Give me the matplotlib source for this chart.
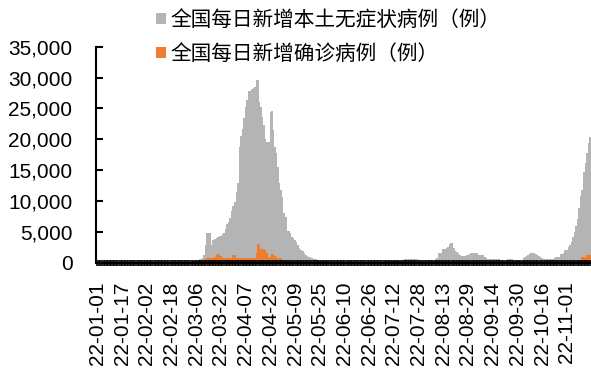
import numpy as np
import pandas as pd
import matplotlib
matplotlib.use('Agg')
import matplotlib.pyplot as plt
from matplotlib.ticker import FuncFormatter

# daily new local cases, 2022-01-01 .. 2022-11-16
dates = pd.date_range('2022-01-01', '2022-11-16', freq='D')

# asymptomatic (gray), one list per month
asym_jan = [28, 31, 25, 23, 30, 36, 33, 41, 45, 52, 60, 48, 39, 44, 37, 50,
            42, 35, 40, 38, 33, 29, 31, 27, 36, 41, 39, 45, 43, 40, 34]
asym_feb = [30, 28, 26, 25, 29, 31, 35, 40, 38, 42, 45, 50, 47, 52, 48, 55,
            60, 58, 62, 66, 70, 75, 80, 78, 85, 90, 96, 100]
asym_mar = [150, 170, 190, 220, 250, 290, 340, 600, 650, 800, 1270, 2950,
            4820, 4920, 4820, 2950, 3740, 3930, 4030, 4230, 4330, 4430, 4720,
            4820, 5510, 6300, 6700, 7290, 8470, 9160, 9950]
asym_apr = [11530, 13010, 18820, 20500, 21680, 23460, 25230, 26320, 27900,
            27900, 28090, 28390, 28490, 29670, 29670, 26120, 25230, 23660,
            22280, 20010, 19610, 19610, 24440, 24640, 21490, 18720, 17740,
            15570, 12910, 11820]
asym_may = [10740, 8080, 7480, 5220, 5120, 4820, 4230, 4030, 3740, 3440,
            2950, 2360, 2060, 1960, 1570, 1270, 1120, 1020, 980, 730, 680,
            680, 630, 450, 420, 390, 360, 330, 300, 280, 260]
asym_jun = [260, 240, 220, 200, 210, 190, 170, 160, 150, 170, 200, 230, 250,
            220, 190, 170, 150, 130, 120, 110, 100, 110, 130, 120, 100, 90,
            110, 130, 150, 170]
asym_jul = [120, 140, 160, 190, 220, 250, 270, 300, 320, 340, 330, 310, 300,
            320, 350, 380, 400, 440, 600, 630, 650, 660, 640, 620, 610, 600,
            590, 470, 430, 400, 380]
asym_aug = [380, 400, 420, 430, 440, 450, 470, 620, 870, 1570, 1620, 1670,
            2260, 2310, 2360, 2650, 3150, 3250, 3200, 2360, 1960, 1860, 1670,
            1270, 1170, 1120, 1070, 1370, 1370, 1420, 1570]
asym_sep = [1620, 1670, 1620, 1570, 1320, 1270, 1270, 1220, 980, 880, 680,
            660, 640, 650, 630, 630, 620, 610, 450, 400, 380, 390, 420, 620,
            640, 630, 600, 420, 400, 410]
asym_oct = [420, 440, 520, 730, 930, 1120, 1270, 1420, 1570, 1570, 1570, 1520,
            1270, 1170, 930, 830, 650, 630, 630, 640, 680, 680, 700, 730, 900,
            930, 980, 1420, 1470, 1570, 2060]
asym_nov = [2160, 2650, 2950, 3340, 4130, 5020, 6000, 7190, 8870, 10840,
            11820, 14780, 16260, 17740, 19420, 20400]

# confirmed (orange)
conf_jan = [112, 130, 95, 88, 79, 103, 128, 97, 110, 165, 122, 138, 104, 89,
            76, 81, 69, 52, 43, 57, 39, 48, 40, 35, 30, 28, 26, 24, 22, 20, 18]
conf_feb = [15, 12, 14, 18, 22, 25, 30, 34, 40, 45, 52, 47, 42, 38, 35, 40, 46,
            55, 60, 66, 72, 70, 68, 75, 80, 84, 88, 95]
conf_mar = [150, 170, 190, 210, 230, 250, 270, 300, 320, 350, 450, 700, 800,
            780, 760, 780, 800, 1020, 1270, 1420, 1370, 1070, 830, 780, 760,
            780, 760, 740, 780, 1270, 1220]
conf_apr = [830, 780, 760, 780, 760, 750, 740, 760, 780, 770, 780, 800, 830,
            1660, 3050, 2950, 2260, 2260, 2210, 2160, 1570, 980, 930, 1470,
            1420, 1070, 930, 880, 830, 780]
conf_may = [450, 420, 400, 380, 350, 330, 300, 280, 260, 240, 220, 200, 190,
            180, 170, 160, 150, 140, 130, 120, 110, 100, 95, 90, 85, 80, 75,
            70, 65, 60, 55]
conf_jun = [35, 30, 28, 25, 22, 20, 18, 16, 15, 14, 13, 30, 45, 50, 40, 32, 28,
            24, 20, 18, 16, 14, 13, 12, 12, 11, 10, 12, 14, 16]
conf_jul = [18, 20, 25, 30, 35, 40, 45, 50, 55, 60, 65, 70, 75, 80, 85, 90, 95,
            100, 105, 110, 110, 100, 95, 90, 85, 80, 75, 70, 65, 60, 55]
conf_aug = [50, 55, 60, 70, 80, 90, 100, 110, 120, 130, 140, 150, 160, 170,
            180, 190, 200, 210, 200, 190, 180, 170, 160, 150, 140, 130, 120,
            110, 100, 110, 120]
conf_sep = [130, 140, 150, 140, 130, 120, 110, 100, 90, 80, 70, 65, 60, 55, 50,
            48, 46, 44, 42, 40, 38, 36, 34, 32, 30, 32, 34, 36, 38, 40]
conf_oct = [45, 50, 55, 60, 70, 80, 90, 100, 110, 120, 130, 140, 150, 140, 130,
            120, 110, 100, 90, 80, 75, 70, 80, 90, 100, 110, 120, 130, 150, 170,
            190]
conf_nov = [250, 270, 290, 310, 330, 350, 380, 400, 430, 460, 900, 980, 1000,
            1330, 1340, 1350]

asym = np.concatenate([asym_jan, asym_feb, asym_mar, asym_apr, asym_may, asym_jun,
                       asym_jul, asym_aug, asym_sep, asym_oct, asym_nov])
conf = np.concatenate([conf_jan, conf_feb, conf_mar, conf_apr, conf_may, conf_jun,
                       conf_jul, conf_aug, conf_sep, conf_oct, conf_nov])

tick_labels = ['22-01-01', '22-01-17', '22-02-02', '22-02-18', '22-03-06',
               '22-03-22', '22-04-07', '22-04-23', '22-05-09', '22-05-25',
               '22-06-10', '22-06-26', '22-07-12', '22-07-28', '22-08-13',
               '22-08-29', '22-09-14', '22-09-30', '22-10-16', '22-11-01']

label_asym = '全国每日新增本土无症状病例（例）'
label_conf = '全国每日新增确诊病例（例）'

gray = '#B4B4B4'
orange = '#ED7D31'

x = np.arange(len(dates))
tick_pos = [dates.get_loc(pd.Timestamp('20' + t)) for t in tick_labels]

fig = plt.figure(figsize=(5.91, 3.70), dpi=100)
ax = fig.add_axes([96 / 591, 1 - 263 / 370, 1 - 96 / 591, (263 - 46.7) / 370])

b1 = ax.bar(x, asym, width=1.0, color=gray, linewidth=0, label=label_asym, zorder=1)
b2 = ax.bar(x, conf, width=1.0, color=orange, linewidth=0, label=label_conf, zorder=1.5)

ax.set_xlim(-0.9, 319.7)
ax.set_ylim(0, 35000)
ax.set_yticks(np.arange(0, 35001, 5000))
ax.yaxis.set_major_formatter(FuncFormatter(lambda v, p: '{:,.0f}'.format(v)))

ax.set_xticks(tick_pos)
ax.set_xticklabels(tick_labels, rotation=90)
ax.set_xticks(x, minor=True)

for s in ['top', 'right']:
    ax.spines[s].set_visible(False)
ax.spines['left'].set_linewidth(1.5)
ax.spines['bottom'].set_linewidth(1.5)

ax.tick_params(axis='x', which='both', direction='inout', length=4.6, width=1.2,
               color='black')
ax.tick_params(axis='x', which='major', pad=11, labelsize=15)
ax.tick_params(axis='y', direction='in', length=4.7, width=1.5, pad=17, labelsize=15)
for lbl in ax.get_xticklabels() + ax.get_yticklabels():
    lbl.set_fontfamily(['Liberation Sans', 'DejaVu Sans'])

ax.legend(handles=[b1, b2], loc='upper left',
          bbox_to_anchor=(155.7 / 591, 1 - 9.0 / 370), bbox_transform=fig.transFigure,
          frameon=False, borderpad=0, borderaxespad=0,
          handlelength=0.49, handleheight=0.49, handletextpad=0.22, labelspacing=0.57,
          prop={'family': ['Noto Sans CJK SC', 'DejaVu Sans'], 'size': 14.9})

fig.savefig('out.png', dpi=100)
